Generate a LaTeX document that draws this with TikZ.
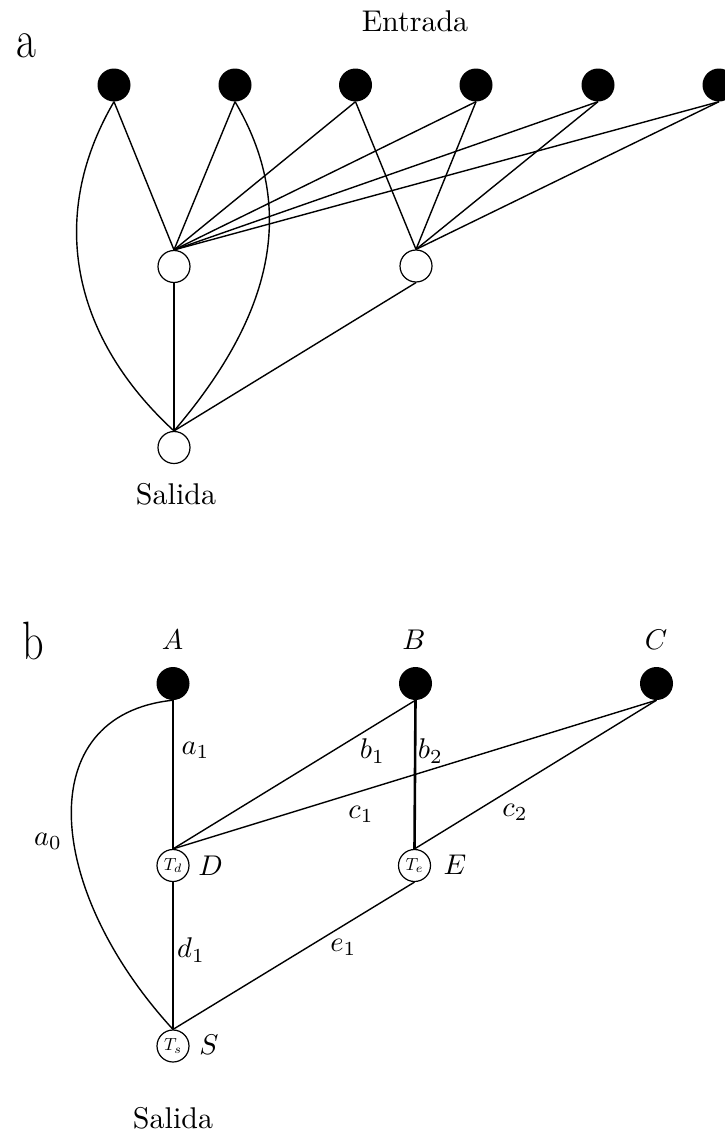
\RequirePackage{fix-cm}
\documentclass[tikz,border=0pt]{standalone}
\usepackage{graphicx}
\newcommand{\txtlbl}[1]{\scalebox{3}{#1}}
\newcommand{\mathlbl}[1]{\scalebox{2.85}{$#1$}}
\newcommand{\tinylbl}[1]{\scalebox{1.75}{$#1$}}
\begin{document}
\begin{tikzpicture}[x=1pt,y=-1pt,
  inblack/.style={circle,fill=black,minimum size=33pt,inner sep=0pt},
  outwhite/.style={circle,draw,line width=1.2pt,fill=white,minimum size=32pt,inner sep=0pt},
  edge/.style={line width=1.4pt},
  heavyedge/.style={line width=2.6pt},
  lbl/.style={inner sep=0pt},
  panel/.style={inner sep=0pt,font=\fontsize{54}{60}\selectfont}]
\useasboundingbox (0,0) rectangle (725,1135);
\clip (0,0) rectangle (725,1135);
% ---------- panel a ----------
\node[panel] (pa) at (26,45.5) {\scalebox{0.8}[1]{a}};
\node[lbl] (entrada) at (415,21) {\txtlbl{Entrada}};
\node[inblack] (i1) at (114,85) {};
\node[inblack] (i2) at (235,85) {};
\node[inblack] (i3) at (355.5,85) {};
\node[inblack] (i4) at (476,85) {};
\node[inblack] (i5) at (598,85) {};
\node[inblack] (i6) at (719,85) {};
\node[outwhite] (w1) at (174,266.5) {};
\node[outwhite] (w2) at (416,266) {};
\node[outwhite] (sa) at (174,447.5) {};
\node[lbl] (salidaa) at (176,494) {\txtlbl{Salida}};
\draw[edge] (i1.south) -- (w1.north);
\draw[edge] (i2.south) -- (w1.north);
\draw[edge] (i3.south) -- (w1.north);
\draw[edge] (i4.south) -- (w1.north);
\draw[edge] (i5.south) -- (w1.north);
\draw[edge] (i6.south) -- (w1.north);
\draw[edge] (i3.south) -- (w2.north);
\draw[edge] (i4.south) -- (w2.north);
\draw[edge] (i5.south) -- (w2.north);
\draw[edge] (i6.south) -- (w2.north);
\draw[edge] (i1.south) .. controls (45,220) and (75,340) .. (sa.north);
\draw[edge] (i2.south) .. controls (305,220) and (260,330) .. (sa.north);
\draw[heavyedge] (w1.south) -- (sa.north);
\draw[edge] (w2.south) -- (sa.north);
% ---------- panel b ----------
\node[panel] (pb) at (33,641) {\scalebox{0.78}[1]{b}};
\node[lbl] (lA) at (172.5,640) {\mathlbl{A}};
\node[lbl] (lB) at (414,640) {\mathlbl{B}};
\node[lbl] (lC) at (656,640) {\mathlbl{C}};
\node[inblack] (A) at (173,683.5) {};
\node[inblack] (B) at (415.5,683.5) {};
\node[inblack] (C) at (656.5,683.5) {};
\node[outwhite] (D) at (173,865.5) {\tinylbl{T_d}};
\node[outwhite] (E) at (414.5,865.5) {\tinylbl{T_e}};
\node[outwhite] (S) at (173,1046) {\tinylbl{T_s}};
\node[lbl] (lD) at (210.5,866) {\mathlbl{D}};
\node[lbl] (lE) at (455,865) {\mathlbl{E}};
\node[lbl] (lS) at (209,1045) {\mathlbl{S}};
\node[lbl] (salidab) at (173,1118) {\txtlbl{Salida}};
\draw[edge] (A.south) -- (D.north);
\draw[edge] (B.south) -- (D.north);
\draw[edge] (C.south) -- (D.north);
\draw[heavyedge] (B.south) -- (E.north);
\draw[edge] (C.south) -- (E.north);
\draw[edge] (D.south) -- (S.north);
\draw[edge] (E.south) -- (S.north);
\draw[edge] (A.south) .. controls (30,715) and (45,890) .. (S.north);
\node[lbl] (la1) at (195.5,750) {\mathlbl{a_1}};
\node[lbl] (lb1) at (372.5,751) {\mathlbl{b_1}};
\node[lbl] (lb2) at (430.5,751) {\mathlbl{b_2}};
\node[lbl] (lc1) at (361,814) {\mathlbl{c_1}};
\node[lbl] (lc2) at (515,812) {\mathlbl{c_2}};
\node[lbl] (la0) at (48,841) {\mathlbl{a_0}};
\node[lbl] (ld1) at (191,950) {\mathlbl{d_1}};
\node[lbl] (le1) at (343.5,947) {\mathlbl{e_1}};
\end{tikzpicture}
\end{document}
